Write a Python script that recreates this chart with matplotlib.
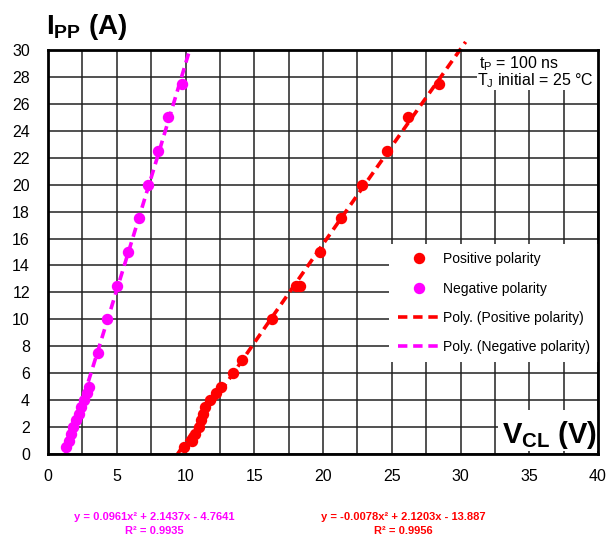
import numpy as np
import matplotlib
matplotlib.use("Agg")
import matplotlib.pyplot as plt
from matplotlib.ticker import MultipleLocator
from matplotlib.lines import Line2D
from matplotlib.patches import Rectangle

plt.rcParams['font.family'] = ['Liberation Sans', 'DejaVu Sans']
plt.rcParams['mathtext.fontset'] = 'custom'
plt.rcParams['mathtext.rm'] = 'Liberation Sans'
plt.rcParams['mathtext.it'] = 'Liberation Sans'
plt.rcParams['mathtext.bf'] = 'Liberation Sans:bold'

# Positive polarity data (V_CL in V, I_PP in A)
pos_v = [9.9, 10.45, 10.7, 10.95, 11.1, 11.3, 11.45, 11.75, 12.2, 12.6, 13.45, 14.1,
         16.3, 18.0, 18.3, 19.75, 21.3, 22.85, 24.65, 26.2, 28.45]
pos_i = [0.5, 1.0, 1.5, 2.0, 2.5, 3.0, 3.5, 4.0, 4.5, 5.0, 6.0, 7.0,
         10.0, 12.5, 12.5, 15.0, 17.5, 20.0, 22.5, 25.0, 27.5]

# Negative polarity data
neg_v = [1.3, 1.5, 1.7, 1.85, 2.05, 2.25, 2.4, 2.6, 2.8, 2.95,
         3.66, 4.29, 5.02, 5.82, 6.64, 7.25, 8.02, 8.75, 9.72]
neg_i = [0.5, 1.0, 1.5, 2.0, 2.5, 3.0, 3.5, 4.0, 4.5, 5.0,
         7.5, 10.0, 12.5, 15.0, 17.5, 20.0, 22.5, 25.0, 27.5]

x_ticks = [0, 5, 10, 15, 20, 25, 30, 35, 40]
y_ticks = list(range(0, 31, 2))

eq_neg = ["y = 0.0961x² + 2.1437x - 4.7641", "R² = 0.9935"]
eq_pos = ["y = -0.0078x² + 2.1203x - 13.887", "R² = 0.9956"]

RED = '#ff0000'
MAG = '#ff00ff'

fig = plt.figure(figsize=(6.09, 5.37), dpi=100)
ax = fig.add_axes([48/609, 1-454/537, 550/609, 404/537])

ax.set_xlim(0, 40)
ax.set_ylim(0, 30)
ax.xaxis.set_major_locator(MultipleLocator(5))
ax.xaxis.set_minor_locator(MultipleLocator(2.5))
ax.set_xticks(x_ticks)
ax.set_yticks(y_ticks)
ax.grid(True, which='both', color='#222222', linewidth=1.1, zorder=0)
ax.set_axisbelow(True)
ax.tick_params(which='both', length=0, labelsize=11.5)
ax.tick_params(axis='x', pad=11)
ax.tick_params(axis='y', pad=13)
for s in ax.spines.values():
    s.set_linewidth(2.0)
    s.set_zorder(10)

ax.plot(pos_v, pos_i, 'o', color=RED, markersize=7.2, zorder=3, clip_on=False)
ax.plot(neg_v, neg_i, 'o', color=MAG, markersize=7.2, zorder=3, clip_on=False)


def trend(v, i, top):
    c = np.polyfit(v, i, 2)
    r0 = [r.real for r in np.roots(c) if abs(r.imag) < 1e-9]
    rt = [r.real for r in np.roots(c - np.array([0, 0, top])) if abs(r.imag) < 1e-9]
    lo = min(r0, key=lambda r: abs(r - min(v)))
    hi = min(rt, key=lambda r: abs(r - max(v)))
    xx = np.linspace(lo, hi, 200)
    return xx, np.polyval(c, xx)


xx, yy = trend(pos_v, pos_i, 30.6)
ax.plot(xx, yy, color=RED, lw=2.6, dashes=(2.6, 1.6), zorder=4, clip_on=False)
xx, yy = trend(neg_v, neg_i, 30.0)
ax.plot(xx, yy, color=MAG, lw=2.6, dashes=(2.6, 1.6), zorder=4, clip_on=False)

# White boxes for annotations
ax.add_patch(Rectangle((0.78, 0.901), 0.22, 0.099, transform=ax.transAxes,
                       facecolor='white', edgecolor='none', zorder=5))
ax.text(0.784, 0.967, r't$_\mathregular{P}$ = 100 ns', transform=ax.transAxes,
        fontsize=11.5, va='center', ha='left', zorder=6)
ax.text(0.780, 0.923, r'T$_\mathregular{J}$ initial = 25 °C', transform=ax.transAxes,
        fontsize=11.5, va='center', ha='left', zorder=6)

ax.add_patch(Rectangle((0.818, 0.008), 0.182, 0.10, transform=ax.transAxes,
                       facecolor='white', edgecolor='none', zorder=5))
ax.text(0.998, 0.027, r'$\mathbf{V}_{\mathbf{CL}}$ (V)', transform=ax.transAxes,
        fontsize=21, fontweight='bold', ha='right', va='baseline', zorder=6)

fig.text(46/609, 1-34/537, r'$\mathbf{I}_{\mathbf{PP}}$ (A)', fontsize=20,
         fontweight='bold', ha='left', va='baseline')

handles = [
    Line2D([], [], ls='none', marker='o', color=RED, markersize=7.2),
    Line2D([], [], ls='none', marker='o', color=MAG, markersize=7.2),
    Line2D([], [], color=RED, lw=2.6, dashes=(2.6, 1.6)),
    Line2D([], [], color=MAG, lw=2.6, dashes=(2.6, 1.6)),
]
labels = ['Positive polarity', 'Negative polarity',
          'Poly. (Positive polarity)', 'Poly. (Negative polarity)']
leg = ax.legend(handles, labels, loc='upper right', bbox_to_anchor=(1.0, 0.52),
                borderaxespad=0, frameon=True, fancybox=False, framealpha=1,
                edgecolor='none', fontsize=10, handlelength=3.1,
                handletextpad=0.15, labelspacing=1.1, borderpad=0.6)
leg.set_zorder(7)

fig.text(154/609, 1-517/537, eq_neg[0], color=MAG, fontsize=8, fontweight='bold',
         ha='center', va='center')
fig.text(154/609, 1-531/537, eq_neg[1], color=MAG, fontsize=8, fontweight='bold',
         ha='center', va='center')
fig.text(403/609, 1-517/537, eq_pos[0], color=RED, fontsize=8, fontweight='bold',
         ha='center', va='center')
fig.text(403/609, 1-531/537, eq_pos[1], color=RED, fontsize=8, fontweight='bold',
         ha='center', va='center')

fig.savefig('out.png', dpi=100)
